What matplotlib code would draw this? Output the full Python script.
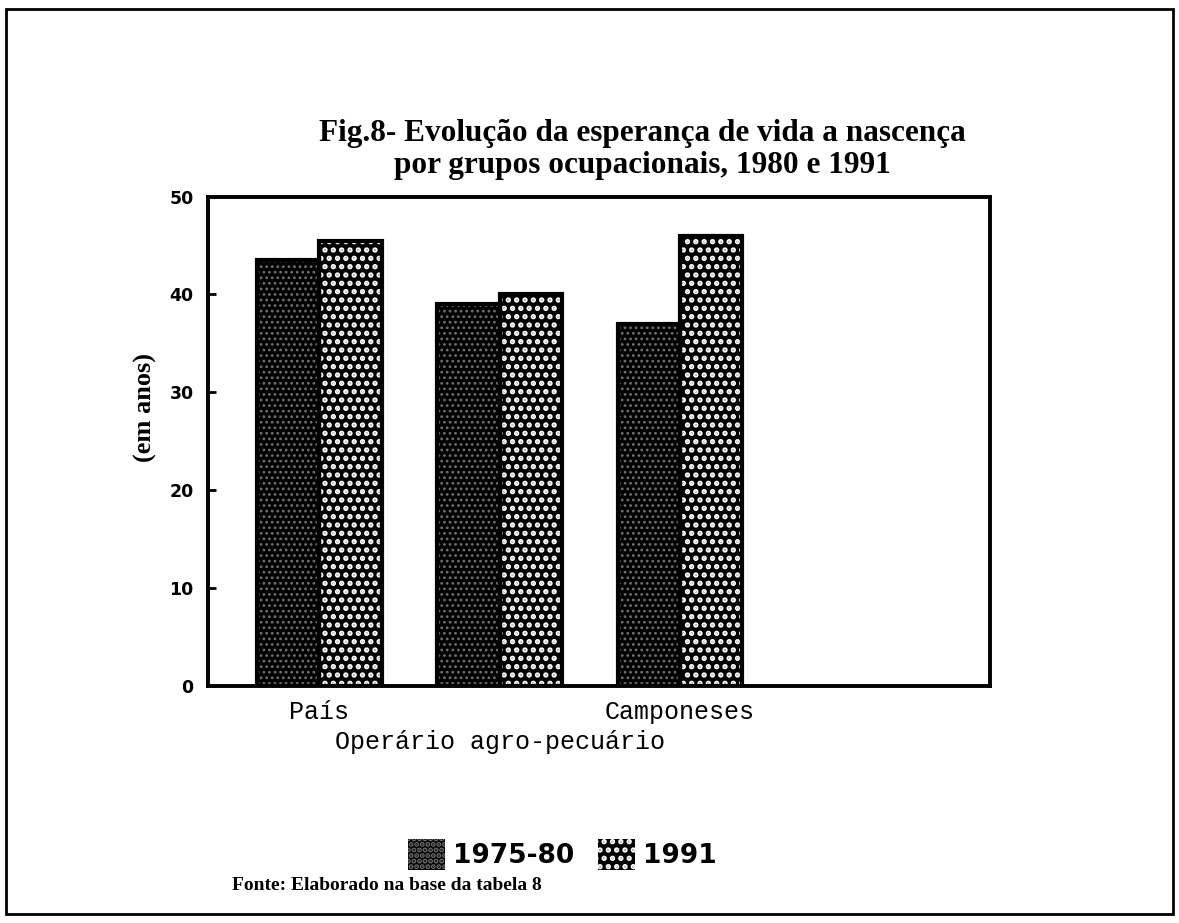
import matplotlib.pyplot as plt
from matplotlib.patches import Patch, Rectangle

grupos = ['País', 'Operário agro-pecuário', 'Camponeses']
anos_1980 = [43.5, 39.0, 37.0]
anos_1991 = [45.5, 40.0, 46.0]
series = ['1975-80', '1991']

fig = plt.figure(figsize=(11.79, 9.23), dpi=100)
ax = fig.add_axes([0.176, 0.257, 0.664, 0.530])

w = 0.345
x = range(len(grupos))
x1 = [i - w / 2 for i in x]
x2 = [i + w / 2 for i in x]

# dark textured bars (1975-80) and dotted bars (1991)
plt.rcParams['hatch.linewidth'] = 1.2
ax.bar(x1, anos_1980, w, color='black', edgecolor='#707070', hatch='...', linewidth=0)
h1 = Patch(facecolor='black', edgecolor='#707070', hatch='...', linewidth=0)
plt.rcParams['hatch.linewidth'] = 2.6
ax.bar(x2, anos_1991, w, color='black', edgecolor='white', hatch='..', linewidth=0)
h2 = Patch(facecolor='black', edgecolor='white', hatch='..', linewidth=0)
ax.bar(x1, anos_1980, w, fill=False, edgecolor='black', linewidth=3)
ax.bar(x2, anos_1991, w, fill=False, edgecolor='black', linewidth=3)

ax.set_xlim(-0.62, 3.72)
ax.set_ylim(0, 50)
ax.set_yticks([0, 10, 20, 30, 40, 50])
ax.set_xticks(list(x))
ax.set_xticklabels(grupos, family='Liberation Mono', fontsize=18)
ax.tick_params(axis='x', length=0, pad=10)
ax.xaxis.get_major_ticks()[1].set_pad(32)
ax.tick_params(axis='y', direction='in', length=6, width=2, pad=10, labelsize=12.5)
for t in ax.get_yticklabels():
    t.set_fontweight('bold')
for s in ax.spines.values():
    s.set_linewidth(2.8)

fig.text(0.545, 0.838, 'Fig.8- Evolução da esperança de vida a nascença\npor grupos ocupacionais, 1980 e 1991',
         ha='center', va='center', family='Liberation Serif', fontweight='bold',
         fontsize=22.5, linespacing=1.15)
fig.text(0.123, 0.558, '(em anos)', rotation=90, ha='center', va='center',
         family='Liberation Serif', fontweight='bold', fontsize=19)
fig.text(0.197, 0.041, 'Fonte: Elaborado na base da tabela 8', ha='left', va='center',
         family='Liberation Serif', fontweight='bold', fontsize=14)

fig.legend([h1, h2], series, loc='center', bbox_to_anchor=(0.477, 0.074), ncol=2,
           frameon=False, handlelength=1.4, handleheight=1.4, handletextpad=0.3,
           columnspacing=0.9, prop={'weight': 'bold', 'size': 19})

# outer frame round the whole page
fig.patches.append(Rectangle((0.005, 0.01), 0.99, 0.98, transform=fig.transFigure,
                             fill=False, edgecolor='black', linewidth=2))

fig.savefig('out.png', dpi=100)
